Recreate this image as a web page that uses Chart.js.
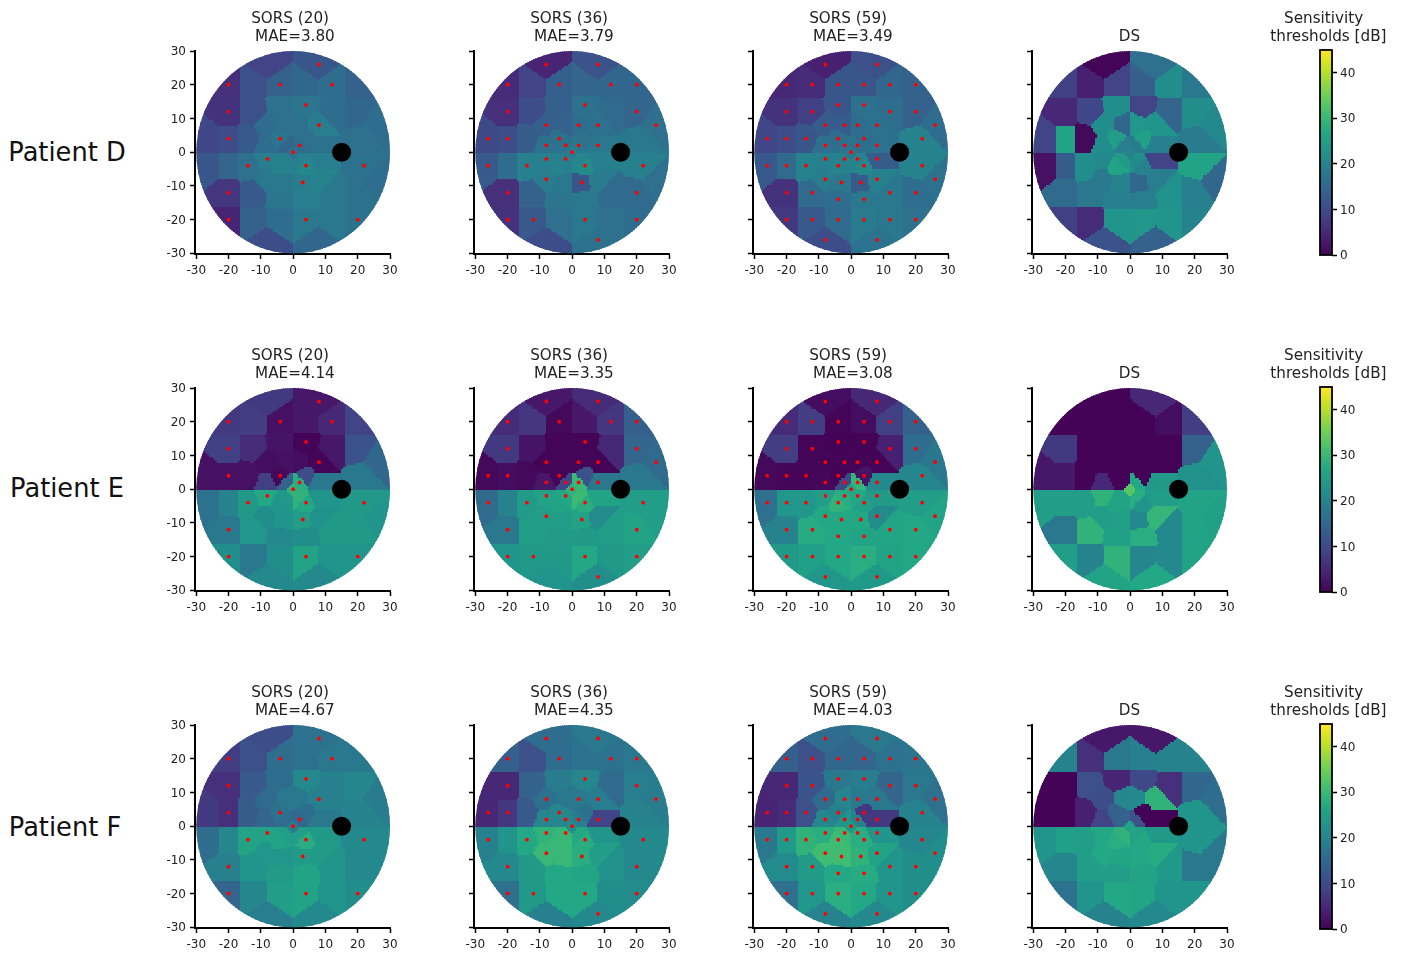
<!DOCTYPE html>
<html lang="en">
<head>
<meta charset="UTF-8">
<title>Sensitivity maps</title>
<script src="https://cdn.jsdelivr.net/npm/chart.js"></script>
<style>
    * { margin: 0; padding: 0; box-sizing: border-box; }
    body { background: white; width: 1405px; height: 956px; overflow: hidden; position: relative; font-family: "DejaVu Sans", sans-serif; }
    canvas { position: absolute; }
    .patient { position: absolute; width: 134px; text-align: center; font-size: 25.7px; color: #111; line-height: 30px; }
</style>
</head>
<body>
<script>
// the 59 test locations, one row of the field per line
const locX = [-8,8, -20,-12,-4,4,12,20, -4,4, -20,-12,12,20, -8,-2,2,8,26, -26,-20,-14,-4,4,22, -8,-2,2,8, 0,
    -8,-2,2,8, -26,-20,-14,-4,4,22, -8,8,26, -3,3, -20,-12,12,20, -4,4, -20,-12,-4,4,12,20, -8,8];
const locY = [26,26, 20,20,20,20,20,20, 14,14, 12,12,12,12, 8,8,8,8,8, 4,4,4,4,4,4, 2,2,2,2, 0,
    -2,-2,-2,-2, -4,-4,-4,-4,-4,-4, -8,-8,-8, -9,-9, -12,-12,-12,-12, -14,-14, -20,-20,-20,-20,-20,-20, -26,-26];

// locations actually measured by the 20 and 36 point runs
const dots20X = [8,-20,-4,12,4,-20,8,-20,-4,2,0,-8,-14,4,22,3,-20,-20,4,20];
const dots20Y = [26,20,20,20,14,12,8,4,4,2,0,-2,-4,-4,-4,-9,-12,-20,-20,-20];
const dots36X = [-8,8,-20,-4,12,20,4,-20,20,-8,2,8,26,-26,-20,-4,-8,-2,2,8,0,-8,-2,-26,-14,4,22,-8,3,-20,20,-20,-12,4,20,8];
const dots36Y = [26,26,20,20,20,20,14,12,12,8,8,8,8,4,4,4,2,2,2,2,0,-2,-2,-4,-4,-4,-4,-8,-9,-12,-12,-20,-20,-20,-20,-26];

const blindX = [15];
const blindY = [0];

const tickVals = [-30,-20,-10,0,10,20,30];
const barTicks = [0,10,20,30,40];
const patients = ['Patient D','Patient E','Patient F'];

// values in dB, same order as locX/locY
const dSors20 = [9,12, 6,11,14,15,16,14, 16.5,17.5, 6.5,11,16,15, 16,16.5,17,19,16, 9.5,10.5,12.5,17.5,16.5,16.5, 16,14.5,16,17, 17,
    19,19.5,19.5,19, 12,14.5,16.5,20,21,17, 18,20,16, 18,19, 7,12.5,18,17, 17.5,19, 4.5,14,16,18,18,17, 10.5,15];
const dSors36 = [4.5,11.5, 5.5,9,13.5,14.5,15,15, 13.5,17, 6,10.5,15.5,14.5, 13.5,14,16,17,16.5, 10,10.5,13,17,16.5,18, 17,17,18,18, 18.5,
    19.5,19.5,20.5,19.5, 12.5,16,19.5,20,22,19.5, 18.5,18.5,16.5, 18,12, 6,14,15.5,15.5, 17.5,18, 6.5,12.5,16.5,18,16.5,16, 10.5,17];
const dSors59 = [4,11, 5,5.5,12,12,15,14, 12,17, 6.5,8.5,16,14, 13,13,16,17,16, 9.5,10.5,12,16,16,20, 16.5,17,16.5,17, 18,
    19.5,20,20,13, 12.5,15.5,20,20,21,20, 18.5,19.5,17, 18,13, 6.5,15.5,18,16, 16,18, 7.5,12.5,15.5,18.5,18,16.5, 10.5,17];
const dDs = [0.5,16.5, 8.5,4,9,13.5,22,18, 22,9, 5,9.5,14.5,22, 22,15,23.5,23,21, 9,26,1,25,25.5,18.5, 22,19,18.5,19.5, 20,
    21,24.5,22,9, 2,13,22,26,20,26, 18,19,15, 20,15, 15.5,18,22.5,19.5, 19.5,19, 8.5,5.5,23,23.5,23,20, 11.5,14];

const eSors20 = [7.5,3, 7.5,8,2,3,5,9, 2.5,0.5, 8.5,5.5,3,11.5, 1.5,2,1.5,0.5,15, 2,2,2,1,10.5,18, 8.5,14,28,18, 29,
    27,24,29,23, 17,20,24,23,27,24, 22,22.5,23, 23,25, 18,23.5,24,24, 21,22, 22,18,22,26,23,23, 21,21];
const eSors36 = [3,5.5, 5.5,7,1,3,7,13.5, 0.5,0.5, 7.5,2.5,5,14.5, 0.5,0.5,0.5,0.5,15.5, 1,1.5,1,0.5,11,18, 3,9.5,30,18, 29,
    26,27,30.5,26, 15.5,20,24.5,26,28,25, 25,21.5,25, 25,26, 18,25,25,26, 24.5,24, 23,24,24,27,24,25, 23,22];
const eSors59 = [1.5,5, 5.5,8,0.5,1.5,8.5,14, 0.3,0.3, 8,0.5,4,16, 0.5,0.5,0.5,0.5,18, 1,0.7,0.7,0.3,2.5,20.5, 1,10,29.5,21, 27,
    25,28,27,24.5, 16.5,23.5,23.5,29,25.5,25, 27,21.5,26, 27,27, 20,27.5,26.5,27, 27,26, 24,25.5,27,28,26,27, 23.5,24];
const eDs = [0.3,5, 0.3,0.3,0.3,0.3,1.5,8, 0.3,0.3, 7.5,0.3,0.3,14, 0.3,0.3,0.3,0.3,23, 3,3,0.3,0.3,0.3,22.5, 5,0.5,27,24, 33,
    29,26,28,25, 25,25,25,26,23,26, 25,29.5,25.5, 25.5,21, 18,29,21,26, 25.5,28, 25,20,29,20.5,21,26, 26,27];

const fSors20 = [10.5,17, 8,11,16,17,18,18, 16,21, 6,12.5,19.5,20.5, 15.5,18,18,19.5,18.5, 7.5,6,13,17,16,20, 14.5,16,14.5,18, 19,
    26,25,25,24, 16,20.5,26,26,28,21, 23.5,24.5,21, 23.5,24.5, 19.5,23,23,21, 24.5,26, 14.5,20.5,25,26,23,22, 19,21];
const fSors36 = [16,18, 13.5,11,16,17,17,18, 18.5,20.5, 5,14,15.5,19, 17,18,18,19,18.5, 5,7,12.5,20.5,17,20, 20.5,20.5,19,9, 22,
    29,30,27,23, 19.5,23,27,30,28,21, 30,25,21, 30,28, 21,24,22.5,21, 27,26.5, 16.5,24,27,27,22,21.5, 19.5,21];
const fSors59 = [16,18, 13.5,11,15,14.5,17,17.5, 18,19, 5,11.5,14.5,18, 15.5,20.5,18,18,16.5, 4.5,5.5,11,19.5,7.5,20, 20.5,23,20,7.5, 24,
    28,30,28,23, 18,24,29,31,28,20.5, 31,26,22, 31,29, 21.5,24.5,23,22, 27,27.5, 16.5,23.5,28,27,23,22, 20,21];
const fDs = [3,3, 20,6,18,19.5,20,20, 4.5,10, 0.3,11,6,15, 10.5,20.5,21,29,16, 0.3,0.3,4,14,0.3,23, 9,14,11.5,0.3, 26,
    27,29,26,24, 23,25.5,25,28,27,23, 27,27.5,18, 26.5,27, 20.5,25,24,18, 25,26, 17,23,27,26.5,23,23, 20,21];

// viridis stops, 0 to 1 in even steps
const viridis = [[68,1,84],[72,36,117],[65,68,135],[53,95,141],[42,120,142],[33,145,140],[34,168,132],[68,191,112],[122,209,81],[189,223,38],[253,231,37]];
const maxDb = 45;

function dbColor(v) {
    const t = Math.min(Math.max(v / maxDb, 0), 1) * (viridis.length - 1);
    const i = Math.min(Math.floor(t), viridis.length - 2);
    const f = t - i;
    const c = viridis[i].map((a, k) => Math.round(a + (viridis[i + 1][k] - a) * f));
    return `rgb(${c[0]},${c[1]},${c[2]})`;
}

const toPoints = (xs, ys) => xs.map((x, i) => ({ x: x, y: ys[i] }));
const GRID_N = 100;   // the map is a 100x100 image over -30..30
const CELL = 60 / GRID_N;

// nearest test location decides the colour of each image cell
const fieldMap = {
    id: 'fieldMap',
    beforeDatasetsDraw(chart, args, opts) {
        const xs = chart.scales.x, ys = chart.scales.y, ctx = chart.ctx;
        const cx = xs.getPixelForValue(0), cy = ys.getPixelForValue(0);
        const rx = xs.getPixelForValue(30) - cx, ry = cy - ys.getPixelForValue(30);
        ctx.save();
        ctx.beginPath();
        ctx.ellipse(cx, cy, rx, ry, 0, 0, Math.PI * 2);
        ctx.clip();
        for (let i = 0; i < GRID_N; i++) {
            for (let j = 0; j < GRID_N; j++) {
                const gx = -30 + (i + 0.5) * CELL, gy = -30 + (j + 0.5) * CELL;
                let best = 0, bestD = Infinity;
                for (let k = 0; k < locX.length; k++) {
                    const d = (locX[k] - gx) ** 2 + (locY[k] - gy) ** 2;
                    if (d < bestD) { bestD = d; best = k; }
                }
                const x0 = Math.floor(xs.getPixelForValue(gx - CELL / 2));
                const x1 = Math.ceil(xs.getPixelForValue(gx + CELL / 2));
                const y0 = Math.floor(ys.getPixelForValue(gy + CELL / 2));
                const y1 = Math.ceil(ys.getPixelForValue(gy - CELL / 2));
                ctx.fillStyle = dbColor(opts.values[best]);
                ctx.fillRect(x0, y0, x1 - x0, y1 - y0);
            }
        }
        ctx.restore();
    }
};

// colour ramp of the colorbar, drawn against its dB scale
const colorRamp = {
    id: 'colorRamp',
    beforeDatasetsDraw(chart) {
        const a = chart.chartArea, ys = chart.scales.y, ctx = chart.ctx;
        for (let v = 0; v < maxDb; v += 0.25) {
            const top = ys.getPixelForValue(v + 0.25), bottom = ys.getPixelForValue(v);
            ctx.fillStyle = dbColor(v + 0.125);
            ctx.fillRect(a.left, Math.floor(top), a.right - a.left, Math.ceil(bottom) - Math.floor(top));
        }
    },
    afterDatasetsDraw(chart) {
        const a = chart.chartArea, ctx = chart.ctx;
        ctx.save();
        ctx.strokeStyle = 'black';
        ctx.lineWidth = 1.8;
        ctx.strokeRect(a.left, a.top, a.right - a.left, a.bottom - a.top);
        ctx.restore();
    }
};

function addCanvas(left, top, w, h) {
    const c = document.createElement('canvas');
    c.width = w;
    c.height = h;
    c.style.left = left + 'px';
    c.style.top = top + 'px';
    c.style.width = w + 'px';
    c.style.height = h + 'px';
    document.body.appendChild(c);
    return c.getContext('2d');
}

const axisFont = { family: '"DejaVu Sans"', size: 12 };
const titleFont = { family: '"DejaVu Sans"', size: 15.2, weight: 'normal', lineHeight: '18px' };
const inkColor = '#222';

function axisOpts(min, max, showLabels, size, isY) {
    return {
        type: 'linear', min: min, max: max,
        afterBuildTicks: s => { s.ticks = tickVals.map(v => ({ value: v })); },
        afterFit: s => { if (isY) s.width = size; else s.height = size; },
        border: { display: true, color: 'black', width: 2 },
        grid: { drawOnChartArea: false, drawTicks: true, tickLength: 5, tickColor: 'black', tickWidth: 1.5 },
        ticks: { display: showLabels, font: axisFont, color: inkColor, padding: isY ? 4 : 5, labelOffset: isY ? 1 : 0, maxRotation: 0, autoSkip: false }
    };
}

function drawPanel(left, top, lines, values, dotsX, dotsY, showY) {
    const twoLines = lines.length === 2;
    const datasets = [{
        data: toPoints(blindX, blindY), pointRadius: 9.5, pointBackgroundColor: 'black', pointBorderWidth: 0, order: 2
    }];
    if (dotsX) {
        datasets.push({ data: toPoints(dotsX, dotsY), pointRadius: 1.9, pointBackgroundColor: '#ff0000', pointBorderWidth: 0, order: 1 });
    }
    new Chart(addCanvas(left - 42, top - 50, 279, 278), {
        type: 'scatter',
        data: { datasets: datasets },
        plugins: [fieldMap],
        options: {
            responsive: false, animation: false, devicePixelRatio: 1,
            layout: { padding: { left: 0, right: 42, top: 0, bottom: 0 } },
            scales: {
                x: axisOpts(-30.4, 30, true, 25, false),
                y: axisOpts(-30.2, 30, showY, 42, true)
            },
            plugins: {
                legend: { display: false },
                tooltip: { enabled: false },
                title: {
                    display: true, fullSize: false, text: lines, font: titleFont, color: inkColor,
                    padding: { top: twoLines ? 9 : 27, bottom: 5 }
                },
                fieldMap: { values: values }
            }
        }
    });
}

function drawColorbar(top) {
    new Chart(addCanvas(1256, top - 50, 140, 280), {
        type: 'scatter',
        data: { datasets: [] },
        plugins: [colorRamp],
        options: {
            responsive: false, animation: false, devicePixelRatio: 1,
            layout: { padding: { left: 0, right: 0, top: 0, bottom: 25 } },
            scales: {
                x: { display: false, min: 0, max: 1 },
                // empty left axis keeps the canvas symmetric round the bar, so the title centres on it
                spacer: {
                    axis: 'y', type: 'linear', position: 'left', min: 0, max: maxDb,
                    afterFit: s => { s.width = 64; },
                    border: { display: false }, grid: { display: false }, ticks: { display: false }
                },
                y: {
                    type: 'linear', position: 'right', min: 0, max: maxDb,
                    afterBuildTicks: s => { s.ticks = barTicks.map(v => ({ value: v })); },
                    afterFit: s => { s.width = 64; },
                    border: { display: false },
                    grid: { drawOnChartArea: false, drawTicks: true, tickLength: 5, tickColor: 'black', tickWidth: 1.5 },
                    ticks: { font: axisFont, color: inkColor, padding: 3, labelOffset: 1 }
                }
            },
            plugins: {
                legend: { display: false },
                tooltip: { enabled: false },
                title: {
                    display: true, text: ['Sensitivity ', ' thresholds [dB]'], font: titleFont, color: inkColor,
                    padding: { top: 10, bottom: 4 }
                }
            }
        }
    });
}

const colLefts = [195.2, 474, 753, 1032];
const rowTops = [50.5, 387.5, 725];
const barTops = [49.5, 386.5, 724];
const labelTops = [137, 473, 812];
const labelLefts = [0, 0, -2];
const maeTexts = [['3.80','3.79','3.49'], ['4.14','3.35','3.08'], ['4.67','4.35','4.03']];
const allValues = [
    [dSors20, dSors36, dSors59, dDs],
    [eSors20, eSors36, eSors59, eDs],
    [fSors20, fSors36, fSors59, fDs]
];
const runNames = ['SORS (20) ', 'SORS (36) ', 'SORS (59) '];
const runDotsX = [dots20X, dots36X, locX];
const runDotsY = [dots20Y, dots36Y, locY];

rowTops.forEach((top, r) => {
    const label = document.createElement('div');
    label.className = 'patient';
    label.textContent = patients[r];
    label.style.left = labelLefts[r] + 'px';
    label.style.top = labelTops[r] + 'px';
    document.body.appendChild(label);

    runNames.forEach((name, c) => {
        drawPanel(colLefts[c], top, [name, ' MAE=' + maeTexts[r][c]], allValues[r][c], runDotsX[c], runDotsY[c], c === 0);
    });
    drawPanel(colLefts[3], top, ['DS'], allValues[r][3], null, null, false);
    drawColorbar(barTops[r]);
});
</script>
</body>
</html>
